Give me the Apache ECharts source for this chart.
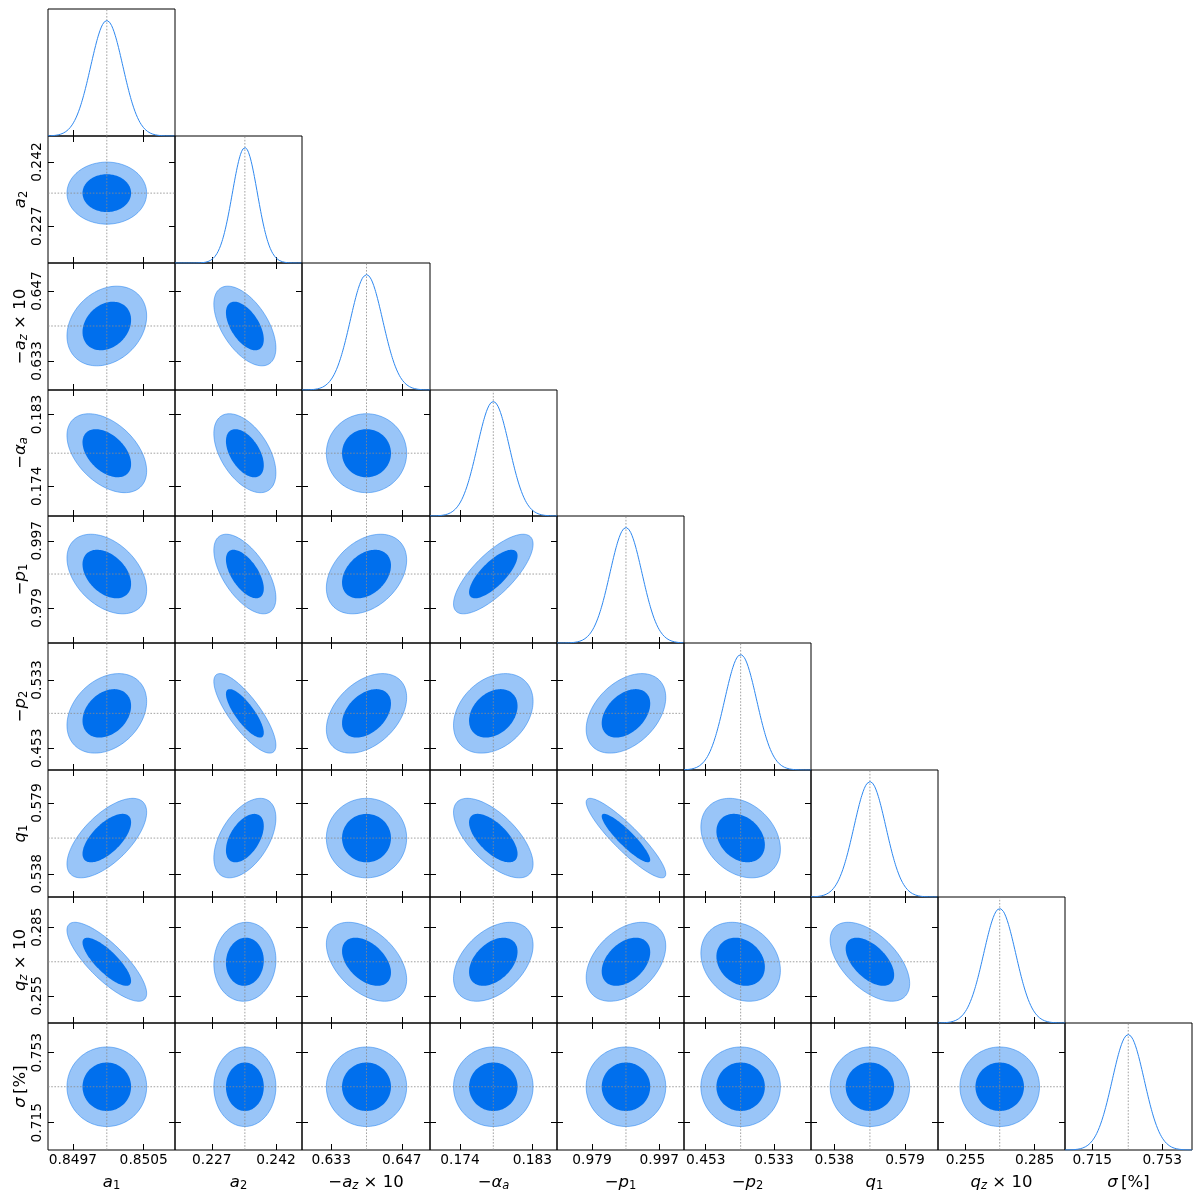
<!DOCTYPE html>
<html><head><meta charset="utf-8">
<script src="https://cdn.jsdelivr.net/npm/echarts@6/dist/echarts.min.js"></script>
<style>html,body{margin:0;padding:0;background:#fff}#c{width:1200px;height:1199px}</style>
</head><body><div id="c"></div>
<script>
// ---------- DATA ----------
const paramKeys = ['a1', 'a2', '-az*10', '-alpha_a', '-p1', '-p2', 'q1', 'qz*10', 'sigma[%]'];
// axis label pieces: [style, text]
const paramLabels = [
  [['i','a'],['s','1']],
  [['i','a'],['s','2']],
  [['n','\u2212'],['i','a'],['si','z'],['n',' \u00d7 10']],
  [['n','\u2212'],['i','\u03b1'],['si','a']],
  [['n','\u2212'],['i','p'],['s','1']],
  [['n','\u2212'],['i','p'],['s','2']],
  [['i','q'],['s','1']],
  [['i','q'],['si','z'],['n',' \u00d7 10']],
  [['i','\u03c3'],['n','\u2009[%]']]
];
const axisMin = [0.849419, 0.21839, 0.62722, 0.17027, 0.96961, 0.42757, 0.52453, 0.24311, 0.70017];
const axisMax = [0.850853, 0.24809, 0.65258, 0.18606, 1.00364, 0.57627, 0.59814, 0.29816, 0.76914];
const tickLo = ['0.8497', '0.227', '0.633', '0.174', '0.979', '0.453', '0.538', '0.255', '0.715'];
const tickHi = ['0.8505', '0.242', '0.647', '0.183', '0.997', '0.533', '0.579', '0.285', '0.753'];
const means  = [0.850083, 0.23473, 0.64000, 0.17814, 0.98809, 0.49389, 0.55868, 0.26986, 0.73452];
const sigmas = [0.000181, 0.00292, 0.00320, 0.00199, 0.00429, 0.01873, 0.00927, 0.00694, 0.00869];
// correlation of row parameter (index r) with column parameter (index c < r)
const corrRows = [
  [],
  [0.0],
  [0.25, -0.55],
  [-0.45, -0.5, 0.0],
  [-0.4, -0.6, 0.35, 0.75],
  [0.3, -0.8, 0.4, 0.3, 0.4],
  [0.65, 0.5, 0.0, -0.65, -0.9, -0.28],
  [-0.8, 0.05, -0.45, 0.42, 0.4, -0.22, -0.55],
  [0, 0, 0, 0, 0, 0, 0, 0]
];
// contour levels (Mahalanobis radius of 68% and 95% 2D regions)
const contourRadii = [2.486, 1.515];

// ---------- LAYOUT / STYLE ----------
const colL = [48, 175, 302, 430, 557, 684, 811, 938, 1065, 1192];
const rowT = [9, 136, 263, 390, 516, 643, 770, 897, 1023, 1150];
const N = 9;
const FONT = 'DejaVu Sans';
const fills = ['#99C5F8', '#006FED'];
const strokes = ['rgba(0,111,237,0.55)', '#006FED'];
const strokeW = [0.8, 0];
const meanLine = {color: '#8a8a8a', width: 0.8, type: [1.6, 1.6]};
const RICH = {
  n:  {fontFamily: FONT, fontSize: 16.5, color: '#000', lineHeight: 22, verticalAlign: 'top'},
  i:  {fontFamily: FONT, fontStyle: 'italic', fontSize: 16.5, color: '#000', lineHeight: 22, verticalAlign: 'top'},
  s:  {fontFamily: FONT, fontSize: 11.5, color: '#000', lineHeight: 14, verticalAlign: 'top', padding: [6, 0, 0, 0]},
  si: {fontFamily: FONT, fontStyle: 'italic', fontSize: 11.5, color: '#000', lineHeight: 14, verticalAlign: 'top', padding: [6, 0, 0, 0]}
};
function richName(k) { return paramLabels[k].map(p => '{' + p[0] + '|' + p[1] + '}').join(''); }
function tickVals(k) { return [parseFloat(tickLo[k]), parseFloat(tickHi[k])]; }
function tickFmt(k) {
  return function (v) {
    const a = parseFloat(tickLo[k]), b = parseFloat(tickHi[k]);
    return Math.abs(v - a) < Math.abs(v - b) ? tickLo[k] : tickHi[k];
  };
}
function corr(r, c) { return corrRows[r][c]; }

const grids = [], xAxes = [], yAxes = [], series = [];

function tickAxis(k, showLabel, extra) {
  return Object.assign({
    type: 'value', min: axisMin[k], max: axisMax[k],
    axisLine: {show: false, onZero: false},
    splitLine: {show: false},
    axisTick: {show: true, inside: true, length: 6, customValues: tickVals(k), lineStyle: {color: '#000', width: 1}},
    axisLabel: {show: showLabel, customValues: tickVals(k), formatter: tickFmt(k), margin: 3,
      fontSize: 13.8, fontFamily: FONT, color: '#000'},
    axisPointer: {show: false}
  }, extra || {});
}

function ellipse(r, c, rad) {
  const rho = corr(r, c), s = Math.sqrt(1 - rho * rho);
  const pts = [];
  for (let k = 0; k < 120; k++) {
    const t = 2 * Math.PI * k / 120;
    const u = rad * Math.cos(t), v = rad * (rho * Math.cos(t) + s * Math.sin(t));
    pts.push([means[c] + sigmas[c] * u, means[r] + sigmas[r] * v]);
  }
  return pts;
}

for (let r = 0; r < N; r++) {
  for (let c = 0; c <= r; c++) {
    const gi = grids.length;
    grids.push({left: colL[c], top: rowT[r], width: colL[c + 1] - colL[c], height: rowT[r + 1] - rowT[r],
      show: true, borderColor: '#000', borderWidth: 1, backgroundColor: 'transparent'});
    const bottom = r === N - 1;
    const xb = xAxes.length;
    xAxes.push(tickAxis(c, bottom, {gridIndex: gi, position: 'bottom',
      name: bottom ? richName(c) : '', nameLocation: 'middle', nameGap: 24, nameMoveOverlap: false,
      nameTextStyle: {rich: RICH}}));
    if (r === c) {
      const yi = yAxes.length;
      yAxes.push({gridIndex: gi, type: 'value', min: 0, max: 1.1, show: true,
        axisLine: {show: false, onZero: false}, axisTick: {show: false}, axisLabel: {show: false}, splitLine: {show: false}});
      const pts = [];
      const M = 200;
      for (let k = 0; k <= M; k++) {
        const x = axisMin[c] + (axisMax[c] - axisMin[c]) * k / M;
        const z = (x - means[c]) / sigmas[c];
        pts.push([x, Math.exp(-0.5 * z * z)]);
      }
      series.push({type: 'line', xAxisIndex: xb, yAxisIndex: yi, data: pts, symbol: 'none', silent: true,
        lineStyle: {color: '#2f88ef', width: 1}, z: 3, animation: false});
      series.push({type: 'line', xAxisIndex: xb, yAxisIndex: yi, data: [[means[c], 0], [means[c], 1.1]],
        symbol: 'none', silent: true, lineStyle: meanLine, z: 2, animation: false});
    } else {
      const left = c === 0;
      xAxes.push(tickAxis(c, false, {gridIndex: gi, position: 'top'}));
      const yl = yAxes.length;
      yAxes.push(tickAxis(r, left, {gridIndex: gi, position: 'left',
        name: left ? richName(r) : '', nameLocation: 'middle', nameGap: 14, nameRotate: 90, nameMoveOverlap: false,
        nameTextStyle: {rich: RICH}}));
      yAxes[yl].axisLabel.rotate = 90;
      yAxes[yl].axisLabel.margin = 4;
      yAxes.push(tickAxis(r, false, {gridIndex: gi, position: 'right'}));
      const rr = r, cc = c;
      series.push({type: 'custom', xAxisIndex: xb, yAxisIndex: yl, silent: true, animation: false, z: 2,
        data: [[means[c], means[r]]],
        renderItem: function (params, api) {
          return {type: 'group', children: contourRadii.map((rad, k) => ({
            type: 'polygon',
            shape: {points: ellipse(rr, cc, rad).map(p => api.coord(p))},
            style: {fill: fills[k], stroke: strokes[k], lineWidth: strokeW[k]}
          }))};
        }});
      series.push({type: 'line', xAxisIndex: xb, yAxisIndex: yl, data: [[means[c], axisMin[r]], [means[c], axisMax[r]]],
        symbol: 'none', silent: true, lineStyle: meanLine, z: 4, animation: false});
      series.push({type: 'line', xAxisIndex: xb, yAxisIndex: yl, data: [[axisMin[c], means[r]], [axisMax[c], means[r]]],
        symbol: 'none', silent: true, lineStyle: meanLine, z: 4, animation: false});
    }
  }
}

const chart = echarts.init(document.getElementById('c'), null, {renderer: 'canvas', width: 1200, height: 1199});
chart.setOption({animation: false, backgroundColor: '#fff', grid: grids, xAxis: xAxes, yAxis: yAxes, series: series});
</script>
</body></html>
